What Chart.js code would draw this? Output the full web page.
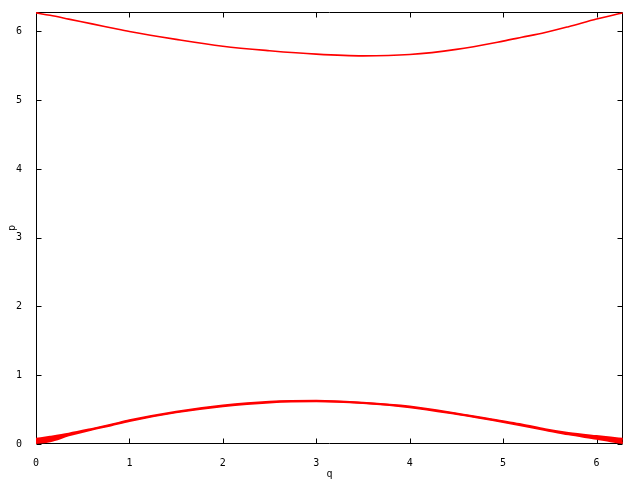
<!DOCTYPE html>
<html>
<head>
<meta charset="utf-8">
<script src="https://cdn.jsdelivr.net/npm/chart.js@4/dist/chart.umd.min.js"></script>
<style>
  body { margin: 0; background: #fff; }
  canvas { display: block; }
</style>
</head>
<body>
<canvas id="myChart" width="640" height="480"></canvas>
<script>
// values
const qValues     = [0, 0.15, 0.35, 0.6, 0.8, 1, 1.5, 2, 2.5, 3, 3.5, 4, 4.5, 5, 5.2, 5.45, 5.7, 6, 6.15, 6.28];
const lowerTop    = [0.075, 0.105, 0.15, 0.22, 0.28, 0.345, 0.47, 0.56, 0.615, 0.63, 0.60, 0.545, 0.445, 0.33, 0.285, 0.215, 0.16, 0.115, 0.095, 0.075];
const lowerBottom = [0.015, 0.04, 0.125, 0.21, 0.27, 0.335, 0.46, 0.55, 0.605, 0.62, 0.595, 0.535, 0.435, 0.32, 0.27, 0.205, 0.14, 0.075, 0.04, 0.015];
const upperP      = [6.27, 6.235, 6.18, 6.11, 6.055, 6.00, 5.885, 5.785, 5.72, 5.67, 5.645, 5.665, 5.74, 5.86, 5.915, 5.985, 6.07, 6.18, 6.23, 6.27];
const xTicks = [0, 1, 2, 3, 4, 5, 6];
const yTicks = [0, 1, 2, 3, 4, 5, 6];
const axisMax = 6.2832;

function toPoints(ys){
    return qValues.map((q, i) => ({x: q, y: ys[i]}));
}

Chart.defaults.font.family = "DejaVu Sans Mono";
Chart.defaults.font.size = 10;
Chart.defaults.color = "#000";

// gnuplot style frame with inward ticks on all four sides
const frameTicks = {
    id: "frameTicks",
    beforeDatasetsDraw(chart){
        const {ctx, chartArea: a, scales: {x, y}} = chart;
        const l = Math.round(a.left) + 0.5, r = Math.round(a.right) - 0.5;
        const t = Math.round(a.top) + 0.5, b = Math.round(a.bottom) - 0.5;
        const len = 5;
        ctx.save();
        ctx.strokeStyle = "#000";
        ctx.lineWidth = 1;
        ctx.beginPath();
        ctx.rect(l, t, r - l, b - t);
        xTicks.forEach(v => {
            const px = Math.round(x.getPixelForValue(v)) + 0.5;
            ctx.moveTo(px, b); ctx.lineTo(px, b - len);
            ctx.moveTo(px, t); ctx.lineTo(px, t + len);
        });
        yTicks.forEach(v => {
            const py = Math.round(y.getPixelForValue(v)) + 0.5;
            ctx.moveTo(l, py); ctx.lineTo(l + len, py);
            ctx.moveTo(r, py); ctx.lineTo(r - len, py);
        });
        ctx.stroke();
        ctx.restore();
    }
};

const red = "#ff0000";

new Chart("myChart", {
    type: "line",
    data: {
        datasets: [
            {
                data: toPoints(lowerBottom),
                borderColor: red,
                borderWidth: 2,
                pointRadius: 0,
                cubicInterpolationMode: "monotone",
                fill: false
            },
            {
                data: toPoints(lowerTop),
                borderColor: red,
                backgroundColor: red,
                borderWidth: 2,
                pointRadius: 0,
                cubicInterpolationMode: "monotone",
                fill: "-1"
            },
            {
                data: toPoints(upperP),
                borderColor: red,
                borderWidth: 1.6,
                pointRadius: 0,
                cubicInterpolationMode: "monotone",
                fill: false
            }
        ]
    },
    options: {
        responsive: false,
        animation: false,
        devicePixelRatio: 1,
        layout: { padding: { top: 12, right: 17, left: 0, bottom: 0 } },
        plugins: {
            legend: { display: false },
            tooltip: { enabled: false }
        },
        scales: {
            x: {
                type: "linear",
                min: 0,
                max: axisMax,
                grid: { display: false },
                border: { display: false },
                afterBuildTicks: scale => { scale.ticks = xTicks.map(v => ({value: v})); },
                afterFit: scale => { scale.height = 36; },
                ticks: { padding: 5, maxRotation: 0 },
                title: { display: true, text: "q", padding: { top: 0, bottom: 0 } }
            },
            y: {
                type: "linear",
                min: 0,
                max: axisMax,
                grid: { display: false },
                border: { display: false },
                afterBuildTicks: scale => { scale.ticks = yTicks.map(v => ({value: v})); },
                afterFit: scale => { scale.width = 36; },
                ticks: { padding: 6 },
                title: { display: true, text: "p", padding: { top: 6, bottom: 0 } }
            }
        }
    },
    plugins: [frameTicks]
});
</script>
</body>
</html>
